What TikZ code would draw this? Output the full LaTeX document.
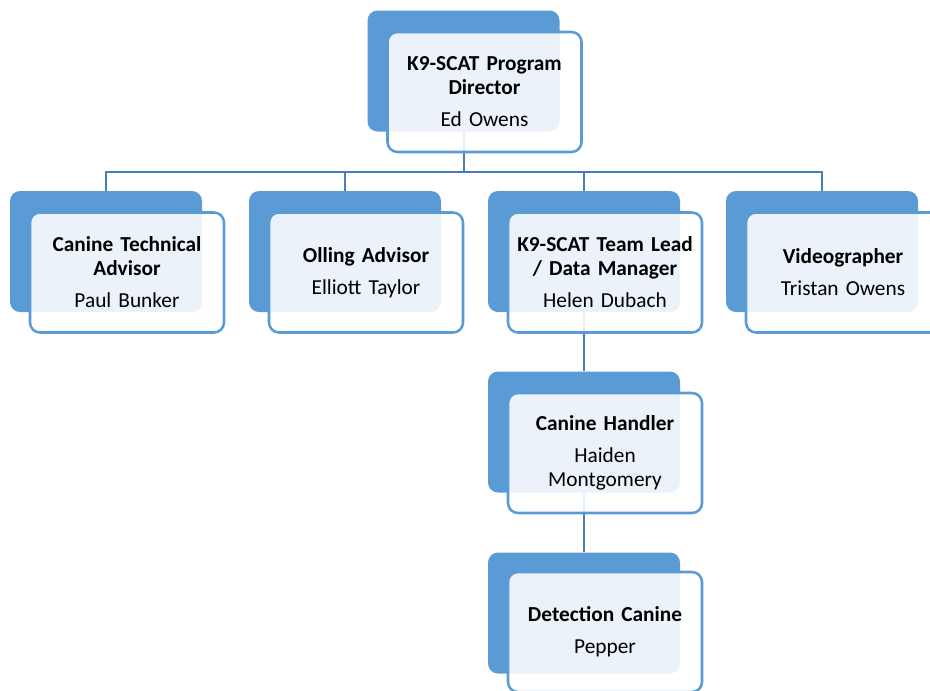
\documentclass[tikz,border=0pt]{standalone}
\usepackage{fontspec}
\setmainfont{Carlito}
\usetikzlibrary{positioning}
\definecolor{orgblue}{HTML}{5B9BD5}
\definecolor{linkblue}{HTML}{4A7EBB}

\begin{document}
\begin{tikzpicture}[x=0.75pt,y=-0.75pt,
      back/.style={rectangle, rounded corners=7.5pt, fill=orgblue, minimum width=144pt, minimum height=90.75pt},
      card/.style={rectangle, rounded corners=7.5pt, draw=orgblue, line width=1.9pt, fill=white, fill opacity=0.88, text opacity=1,
        minimum width=145.5pt, minimum height=90pt, text width=138pt, align=center, font=\fontsize{16}{18}\selectfont},
      link/.style={draw=linkblue, line width=1.5pt}]
    \useasboundingbox (0,0) rectangle (930,690);
    \clip (0,0) rectangle (930,690);

    % blue backing plates
    \node[back] (dir) at (463.5,71) {};
    \node[back] (tech) at (106,251.5) {};
    \node[back] (olling) at (345,251.5) {};
    \node[back] (lead) at (584,251.5) {};
    \node[back] (video) at (822,251.5) {};
    \node[back] (handler) at (584,432) {};
    \node[back] (canine) at (584,613) {};

    % connectors run under the cards
    \coordinate (bus) at (463.5,172);
    \foreach \n in {tech,olling,lead,video}
      \draw[link] (dir.south) |- (\n.north |- bus) -- (\n.north);
    \draw[link] (lead.south) -- (handler.north);
    \draw[link] (handler.south) -- (canine.north);

    % cards
    \node[card] (dirC) at ([shift={(21,21)}]dir) {\textbf{K9-SCAT Program\\Director}\\[6pt]Ed Owens};
    \node[card] (techC) at ([shift={(21,21)}]tech) {\textbf{Canine Technical\\Advisor}\\[6pt]Paul Bunker};
    \node[card] (ollingC) at ([shift={(21,21)}]olling) {\textbf{Olling Advisor}\\[6pt]Elliott Taylor};
    \node[card] (leadC) at ([shift={(21,21)}]lead) {\textbf{K9-SCAT Team Lead\\/ Data Manager}\\[6pt]Helen Dubach};
    \node[card] (videoC) at ([shift={(21,21)}]video) {\textbf{Videographer}\\[6pt]Tristan Owens};
    \node[card] (handlerC) at ([shift={(21,21)}]handler) {\textbf{Canine Handler}\\[6pt]Haiden\\Montgomery};
    \node[card] (canineC) at ([shift={(21,19)}]canine) {\textbf{Detection Canine}\\[6pt]Pepper};
\end{tikzpicture}
\end{document}
